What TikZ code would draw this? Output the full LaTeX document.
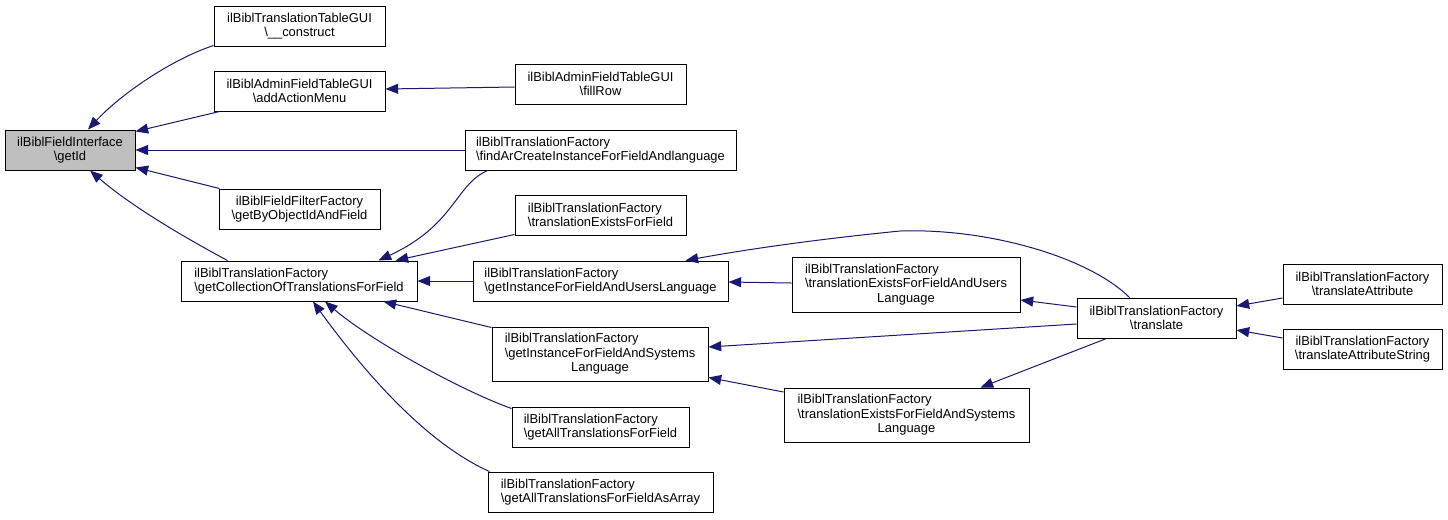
\documentclass[tikz,border=0pt]{standalone}
\usepackage{fontspec}
\setmainfont{Liberation Sans}
\usetikzlibrary{arrows.meta,calc}
\definecolor{edgeblue}{HTML}{191970}
\definecolor{rootgray}{HTML}{BFBFBF}
\tikzset{
  box/.style={draw=black, line width=0.75pt, inner sep=0pt, fill=white,
    font=\fontsize{9.7}{10.9}\selectfont, align=center, minimum height=30pt},
  leftbox/.style={box, align=left},
  tallbox/.style={box, align=left, minimum height=40.5pt},
  edge/.style={draw=edgeblue, line width=0.75pt, -{Triangle[length=9.5pt,width=7.5pt]}},
}
\newcommand{\bs}{\textbackslash}
\newcommand{\ctr}[1]{\hspace*{\fill}#1\hspace*{\fill}}
\begin{document}
\begin{tikzpicture}[x=0.75pt, y=-0.75pt]
\useasboundingbox (0,0) rectangle (1448,519);

% nodes
\node[box, fill=rootgray, minimum width=97.5pt] (getId) at (70,150) {ilBiblFieldInterface\\\bs getId};
\node[box, minimum width=128.25pt] (construct) at (299.5,26) {ilBiblTranslationTableGUI\\\bs\_\_construct};
\node[box, minimum width=128.25pt] (addAction) at (299.5,91) {ilBiblAdminFieldTableGUI\\\bs addActionMenu};
\node[box, minimum width=120.75pt] (getByObj) at (299.5,209) {ilBiblFieldFilterFactory\\\bs getByObjectIdAndField};
\node[leftbox, minimum width=177pt] (getColl) at (299,281) {ilBiblTranslationFactory\\\bs getCollectionOfTranslationsForField};
\node[box, minimum width=128.25pt] (fillRow) at (600.5,84) {ilBiblAdminFieldTableGUI\\\bs fillRow};
\node[leftbox, minimum width=203.25pt] (findAr) at (600.5,150) {ilBiblTranslationFactory\\\bs findArCreateInstanceForFieldAndlanguage};
\node[leftbox, minimum width=128.25pt] (transExField) at (600.5,215) {ilBiblTranslationFactory\\\bs translationExistsForField};
\node[leftbox, minimum width=191.25pt] (getInstUsers) at (600.5,281) {ilBiblTranslationFactory\\\bs getInstanceForFieldAndUsersLanguage};
\node[tallbox, minimum width=162pt] (getInstSys) at (600,354) {ilBiblTranslationFactory\\\bs getInstanceForFieldAndSystems\\\ctr{Language}};
\node[leftbox, minimum width=132.75pt] (getAllField) at (600.5,427) {ilBiblTranslationFactory\\\bs getAllTranslationsForField};
\node[leftbox, minimum width=168.75pt] (asArray) at (600.5,492) {ilBiblTranslationFactory\\\bs getAllTranslationsForFieldAsArray};
\node[tallbox, minimum width=171pt, minimum height=41.25pt] (transUsers) at (906,284.5) {ilBiblTranslationFactory\\\bs translationExistsForFieldAndUsers\\\ctr{Language}};
\node[tallbox, minimum width=183.75pt] (transSys) at (906.5,415) {ilBiblTranslationFactory\\\bs translationExistsForFieldAndSystems\\\ctr{Language}};
\node[box, minimum width=119.25pt] (translate) at (1156.5,318) {ilBiblTranslationFactory\\\bs translate};
\node[box, minimum width=119.25pt] (tAttr) at (1362.5,284) {ilBiblTranslationFactory\\\bs translateAttribute};
\node[box, minimum width=119.25pt] (tAttrStr) at (1362.5,349) {ilBiblTranslationFactory\\\bs translateAttributeString};

% edges into getId
\draw[edge] ($(construct.south west)+(0,-1)$) .. controls (170,60) and (120,95) .. ($(getId.north)+(18,0)$);
\draw[edge] ($(addAction.south west)+(6,0)$) -- ($(getId.north east)+(0,2)$);
\draw[edge] (findAr.west) -- (getId.east);
\draw[edge] ($(getByObj.north west)+(1,0)$) -- ($(getId.south east)+(0,-3)$);
\draw[edge] ($(getColl.north west)+(47,0)$) .. controls (180,235) and (130,205) .. ($(getId.south)+(20,0)$);

% edge into addAction
\draw[edge] ($(fillRow.west)+(0,3)$) -- ($(addAction.east)+(0,-2)$);

% edges into getColl
\draw[edge] ($(findAr.south west)+(23,0)$) .. controls (455,185) and (455,225) .. ($(getColl.north east)+(-39,0)$);
\draw[edge] ($(transExField.south west)+(0,-1)$) -- ($(getColl.north east)+(-22,0)$);
\draw[edge] (getInstUsers.west) -- (getColl.east);
\draw[edge] ($(getInstSys.north west)+(0,1)$) -- ($(getColl.south east)+(-34,0)$);
\draw[edge] ($(getAllField.north west)+(0,2)$) .. controls (460,390) and (370,340) .. ($(getColl.south)+(26,0)$);
\draw[edge] ($(asArray.north west)+(2,0)$) .. controls (430,445) and (370,380) .. ($(getColl.south)+(14,0)$);

% edges into getInstUsers
\draw[edge] ($(translate.north)+(-27,0)$) .. controls (1090,258) and (990,228) .. (900,231)
  .. controls (830,238) and (760,247) .. ($(getInstUsers.north east)+(-43,0)$);
\draw[edge] ($(transUsers.west)+(0,-1.5)$) -- ($(getInstUsers.east)+(0,1)$);

% edges into getInstSys
\draw[edge] ($(translate.west)+(0,6)$) -- ($(getInstSys.east)+(0,-7)$);
\draw[edge] ($(transSys.west)+(0,-23)$) -- ($(getInstSys.south east)+(0,-4)$);

% edges from translate
\draw[edge] ($(translate.west)+(0,-11)$) -- ($(transUsers.east)+(0,15.5)$);
\draw[edge] ($(translate.south west)+(30,0)$) -- ($(transSys.north east)+(-49,0)$);

% edges into translate
\draw[edge] ($(tAttr.west)+(0,14)$) -- ($(translate.east)+(0,-12)$);
\draw[edge] ($(tAttrStr.west)+(0,-11)$) -- ($(translate.east)+(0,12)$);
\end{tikzpicture}
\end{document}
